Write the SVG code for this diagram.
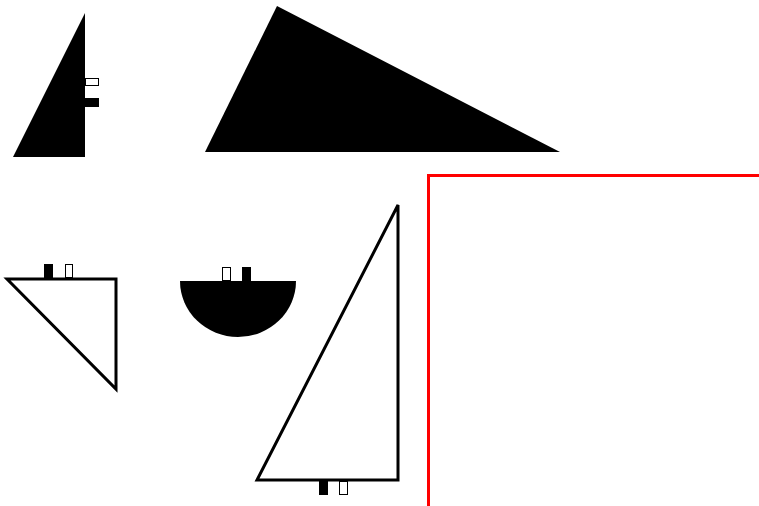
<svg xmlns="http://www.w3.org/2000/svg" width="759" height="506" viewBox="0 0 759 506">
  <style>
    .solid { fill: #000; stroke: none; }
    .outline { fill: #fff; stroke: #000; stroke-width: 3; stroke-linejoin: miter; }
    .tab-on { fill: #000; stroke: none; }
    .tab-off { fill: #fff; stroke: #000; stroke-width: 1; }
    .wall { fill: none; stroke: #ff0000; stroke-width: 3; }
  </style>
  <rect width="759" height="506" fill="#fff"/>
  <g id="shape1">
    <polygon class="solid" points="85,13 13,157 85,157"/>
    <rect class="tab-off" x="85.5" y="78.5" width="13" height="7"/>
    <rect class="tab-on" x="85" y="98" width="14" height="9"/>
  </g>
  <g id="shape2">
    <polygon class="solid" points="277,6 205,152 560,152"/>
  </g>
  <g id="shape3">
    <path class="solid" d="M180,281 L296,281 A58,56 0 0 1 180,281 Z"/>
    <rect class="tab-off" x="222.5" y="267.5" width="8" height="13"/>
    <rect class="tab-on" x="242" y="267" width="9" height="14"/>
  </g>
  <g id="shape4">
    <polygon class="outline" points="7,279 116,279 116,389"/>
    <rect class="tab-on" x="44" y="264" width="9" height="14"/>
    <rect class="tab-off" x="65.5" y="264.5" width="7" height="13"/>
  </g>
  <g id="shape5">
    <polygon class="outline" points="398,205 257,480 398,480"/>
    <rect class="tab-on" x="319" y="481" width="9" height="14"/>
    <rect class="tab-off" x="339.5" y="481.5" width="8" height="13"/>
  </g>
  <g id="connectors">
    <polyline class="wall" points="428.5,506 428.5,175.5 759,175.5"/>
  </g>
</svg>
